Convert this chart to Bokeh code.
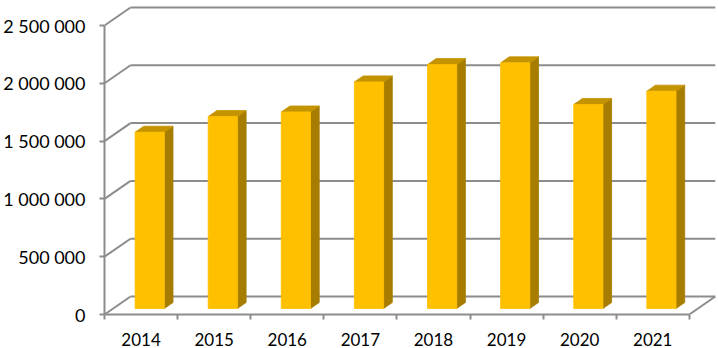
from bokeh.plotting import figure
from bokeh.models import Range1d, LinearAxis, FixedTicker
from bokeh.embed import file_html
from bokeh.resources import INLINE

# ---- data ----
years = ["2014", "2015", "2016", "2017", "2018", "2019", "2020", "2021"]
values = [1525000, 1660000, 1700000, 1960000, 2110000, 2125000, 1765000, 1880000]
y_ticks = [0, 500000, 1000000, 1500000, 2000000, 2500000]
y_tick_labels = ["0", "500 000", "1 000 000", "1 500 000", "2 000 000", "2 500 000"]

# ---- layout / style constants ----
CAT_PX = 73.1            # pixels per category
PX_PER_UNIT = 115.6e-6   # pixels per value unit
FRAME_W = 617
FRAME_H = 314
DEPTH_PX_X = 26.0        # 3-D depth offset in pixels
DEPTH_PX_Y = 18.0
GRID = "#8c8c8c"
FRONT = "#FFC000"
SIDE = "#A67D00"
TOP = "#C49300"
FONT = "Lato"

n = len(years)
dx = DEPTH_PX_X / CAT_PX
dy = DEPTH_PX_Y / PX_PER_UNIT
half = 0.2
centers = [i + 0.5 for i in range(n)]

p = figure(frame_width=FRAME_W, frame_height=FRAME_H,
           x_range=Range1d(0, FRAME_W / CAT_PX),
           y_range=Range1d(0, FRAME_H / PX_PER_UNIT),
           x_axis_type=None, y_axis_type=None,
           output_backend="svg", toolbar_location=None,
           min_border_left=101, min_border_right=0,
           min_border_top=0, min_border_bottom=34)
p.outline_line_color = None
p.background_fill_color = "white"
p.border_fill_color = "white"

# back-wall gridlines
p.segment(x0=[dx] * len(y_ticks), y0=[t + dy for t in y_ticks],
          x1=[n + dx] * len(y_ticks), y1=[t + dy for t in y_ticks],
          line_color=GRID, line_width=2)
# side-wall gridlines (diagonals)
p.segment(x0=[0] * len(y_ticks), y0=y_ticks,
          x1=[dx] * len(y_ticks), y1=[t + dy for t in y_ticks],
          line_color=GRID, line_width=2)
# right floor edge
p.segment(x0=[n], y0=[0], x1=[n + dx], y1=[dy], line_color=GRID, line_width=2)

# 3-D bars: front face at 1/3 depth, back at 2/3 depth
ox, oy = dx / 3, dy / 3
ox2, oy2 = 2 * dx / 3, 2 * dy / 3
side_xs = [[c + half + ox, c + half + ox, c + half + ox2, c + half + ox2] for c in centers]
side_ys = [[oy, v + oy, v + oy2, oy2] for v in values]
top_xs = [[c - half + ox, c + half + ox, c + half + ox2, c - half + ox2] for c in centers]
top_ys = [[v + oy, v + oy, v + oy2, v + oy2] for v in values]
p.patches(xs=side_xs, ys=side_ys, fill_color=SIDE, line_color=SIDE, line_width=0.8)
p.patches(xs=top_xs, ys=top_ys, fill_color=TOP, line_color=TOP, line_width=0.8)
p.quad(left=[c - half + ox for c in centers], right=[c + half + ox for c in centers],
       bottom=[oy] * n, top=[v + oy for v in values],
       fill_color=FRONT, line_color=FRONT, line_width=0.8)

# axes
yaxis = LinearAxis(ticker=FixedTicker(ticks=y_ticks),
                   major_label_overrides=dict(zip(y_ticks, y_tick_labels)),
                   bounds=(0, y_ticks[-1]),
                   axis_line_color=GRID, axis_line_width=2,
                   major_tick_line_color=GRID, major_tick_line_width=2,
                   major_tick_out=5, major_tick_in=0,
                   minor_tick_line_color=None,
                   major_label_text_font=FONT, major_label_text_font_size="18px",
                   major_label_text_color="black", major_label_standoff=14)
p.add_layout(yaxis, "left")

xaxis = LinearAxis(ticker=FixedTicker(ticks=centers, minor_ticks=list(range(n + 1))),
                   major_label_overrides=dict(zip(centers, years)),
                   bounds=(0, n),
                   axis_line_color=GRID, axis_line_width=2,
                   major_tick_line_color=None, major_tick_out=0, major_tick_in=0,
                   minor_tick_line_color=GRID, minor_tick_line_width=2,
                   minor_tick_out=5, minor_tick_in=0,
                   major_label_text_font=FONT, major_label_text_font_size="17px",
                   major_label_text_color="black", major_label_standoff=13)
p.add_layout(xaxis, "below")

open("out.html", "w").write(file_html(p, INLINE))
